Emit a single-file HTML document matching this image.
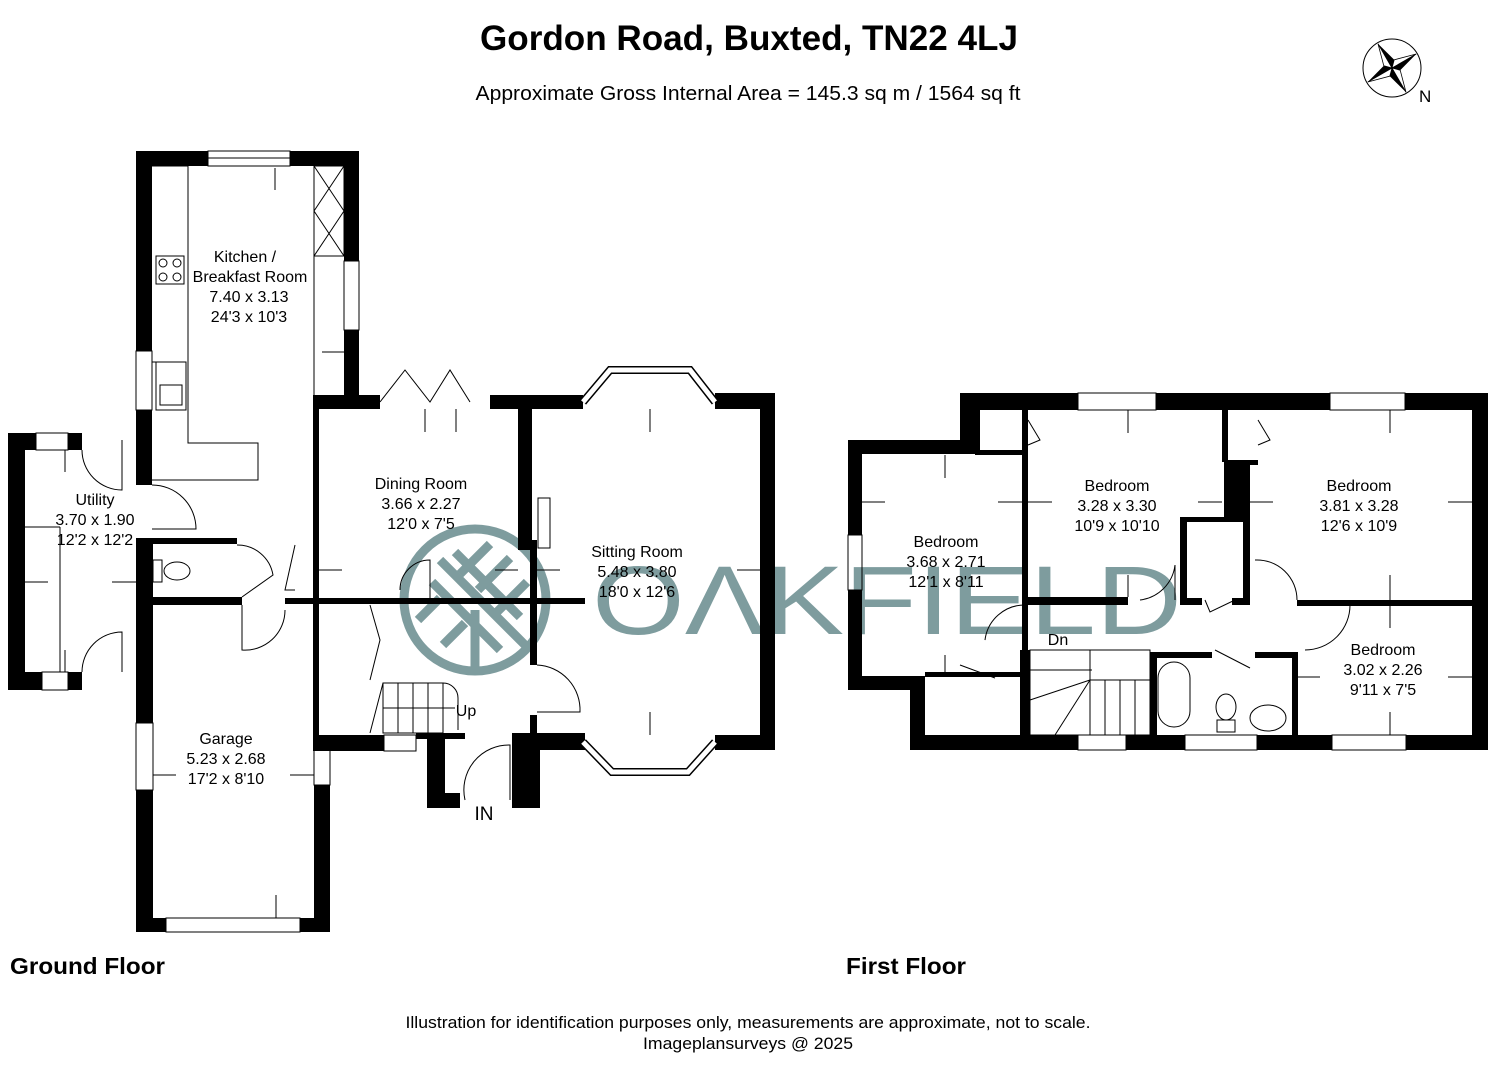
<!DOCTYPE html>
<html><head><meta charset="utf-8"><style>
html,body{margin:0;padding:0;background:#fff;}
svg{display:block;}
text{font-family:"Liberation Sans",Arial,sans-serif;fill:#000;}
</style></head><body>
<svg width="1495" height="1080" viewBox="0 0 1495 1080" xmlns="http://www.w3.org/2000/svg">
<rect width="1495" height="1080" fill="#fff"/>
<!-- watermark -->
<g fill="none" stroke="#7e9c9e">
<circle cx="475" cy="600" r="71" stroke-width="9"/>
<g stroke-width="9">
<line x1="475" y1="610" x2="475" y2="668"/>
<line x1="432" y1="582" x2="500" y2="650"/>
<line x1="440" y1="560" x2="525" y2="645"/>
<line x1="455" y1="552" x2="520" y2="617"/>
<line x1="418" y1="620" x2="440" y2="598"/>
<line x1="443" y1="645" x2="465" y2="623"/>
<line x1="460" y1="574" x2="490" y2="544"/>
<line x1="478" y1="590" x2="510" y2="558"/>
<line x1="497" y1="612" x2="527" y2="582"/>
</g></g>
<text x="592" y="634" font-size="97" fill="#7e9c9e" style="fill:#7e9c9e" textLength="590" lengthAdjust="spacingAndGlyphs">OΛKFIELD</text>

<!-- titles -->
<text x="749" y="50" font-size="35" font-weight="bold" text-anchor="middle" textLength="538" lengthAdjust="spacingAndGlyphs">Gordon Road, Buxted, TN22 4LJ</text>
<text x="748" y="100" font-size="20" text-anchor="middle" textLength="545" lengthAdjust="spacingAndGlyphs">Approximate Gross Internal Area = 145.3 sq m / 1564 sq ft</text>
<text x="10" y="974" font-size="23" font-weight="bold" textLength="155" lengthAdjust="spacingAndGlyphs">Ground Floor</text>
<text x="846" y="974" font-size="23" font-weight="bold" textLength="120" lengthAdjust="spacingAndGlyphs">First Floor</text>
<text x="748" y="1028" font-size="17" text-anchor="middle" textLength="685" lengthAdjust="spacingAndGlyphs">Illustration for identification purposes only, measurements are approximate, not to scale.</text>
<text x="748" y="1049" font-size="17" text-anchor="middle" textLength="210" lengthAdjust="spacingAndGlyphs">Imageplansurveys @ 2025</text>
<!-- compass -->
<g transform="translate(1392,68) rotate(-30)">
<circle r="29" fill="none" stroke="#000" stroke-width="1" transform="rotate(30)"/>
<polygon points="0,0 0,-28 6,-6" fill="#000"/>
<polygon points="0,0 0,-28 -6,-6" fill="#fff" stroke="#000" stroke-width="0.8"/>
<polygon points="0,0 28,0 6,6" fill="#000"/>
<polygon points="0,0 28,0 6,-6" fill="#fff" stroke="#000" stroke-width="0.8"/>
<polygon points="0,0 0,28 -6,6" fill="#000"/>
<polygon points="0,0 0,28 6,6" fill="#fff" stroke="#000" stroke-width="0.8"/>
<polygon points="0,0 -28,0 -6,-6" fill="#000"/>
<polygon points="0,0 -28,0 -6,6" fill="#fff" stroke="#000" stroke-width="0.8"/>
</g>
<text x="1419" y="102" font-size="17">N</text>

<!-- GROUND FLOOR walls -->
<g fill="#000">
<rect x="136" y="151" width="72" height="15"/>
<rect x="290" y="151" width="69" height="15"/>
<rect x="136" y="151" width="16" height="200"/>
<rect x="136" y="410" width="16" height="75"/>
<rect x="344" y="151" width="15" height="110"/>
<rect x="344" y="330" width="15" height="65"/>
<rect x="8" y="433" width="17" height="257"/>
<rect x="8" y="433" width="28" height="17"/>
<rect x="68" y="433" width="14" height="17"/>
<rect x="8" y="672" width="34" height="18"/>
<rect x="68" y="672" width="14" height="18"/>
<rect x="136" y="538" width="17" height="185"/>
<rect x="136" y="790" width="17" height="142"/>
<rect x="152" y="538" width="85" height="6"/>
<rect x="152" y="597" width="90" height="8"/>
<rect x="285" y="598" width="300" height="6"/>
<rect x="136" y="918" width="30" height="14"/>
<rect x="300" y="918" width="30" height="14"/>
<rect x="314" y="785" width="16" height="147"/>
<rect x="313" y="735" width="71" height="16"/>
<rect x="416" y="733" width="49" height="6"/>
<rect x="313" y="395" width="6" height="345"/>
<rect x="313" y="395" width="67" height="14"/>
<rect x="490" y="395" width="93" height="14"/>
<rect x="518" y="409" width="14" height="141"/>
<rect x="530" y="540" width="7" height="125"/>
<rect x="530" y="715" width="7" height="35"/>
<rect x="427" y="733" width="18" height="75"/>
<rect x="427" y="793" width="33" height="15"/>
<rect x="512" y="733" width="28" height="75"/>
<rect x="512" y="733" width="73" height="17"/>
<rect x="715" y="393" width="60" height="16"/>
<rect x="760" y="393" width="15" height="357"/>
<rect x="715" y="735" width="60" height="15"/>
</g>
<g fill="none" stroke="#000" stroke-width="1">
<rect x="208" y="151" width="82" height="15"/><line x1="208" y1="158" x2="290" y2="158"/>
<rect x="136" y="351" width="16" height="59"/>
<rect x="344" y="261" width="15" height="69"/>
<rect x="36" y="433" width="32" height="17"/>
<rect x="42" y="672" width="26" height="18"/>
<rect x="136" y="723" width="17" height="67"/>
<rect x="314" y="750" width="16" height="35"/>
<rect x="166" y="918" width="134" height="14"/>
<rect x="384" y="735" width="32" height="16"/>
<path d="M152 166 H188 V443 H258 V480 H152"/>
<path d="M314 166 V395 M314 166 H344"/>
<rect x="314" y="166" width="30" height="90"/>
<line x1="314" y1="166" x2="344" y2="211"/><line x1="344" y1="166" x2="314" y2="211"/>
<line x1="314" y1="211" x2="344" y2="256"/><line x1="344" y1="211" x2="314" y2="256"/>
<rect x="156" y="256" width="28" height="28"/>
<circle cx="163" cy="263" r="4"/><circle cx="177" cy="263" r="4"/><circle cx="163" cy="277" r="4"/><circle cx="177" cy="277" r="4"/>
<rect x="156" y="362" width="30" height="48"/><rect x="160" y="385" width="22" height="20"/>
<line x1="25" y1="527" x2="60" y2="527"/><line x1="60" y1="527" x2="60" y2="672"/>
<path d="M82 450 A40 40 0 0 0 122 490 L122 440"/>
<path d="M152 485 A44 44 0 0 1 196 529 L152 529"/>
<path d="M82 672 A40 40 0 0 1 122 632 L122 672"/>
<rect x="153" y="560" width="9" height="22"/><ellipse cx="177" cy="571" rx="13" ry="9"/>
<path d="M237 545 A36 36 0 0 1 273 575 L242 597"/>
<path d="M242 605 V650 A40 40 0 0 0 285 610"/>
<path d="M295 545 L285 590 H295"/>
<path d="M380 402 L405 370 L430 402 L450 370 L470 402"/>
<path d="M400 590 A30 30 0 0 1 430 560 V598"/>
<path d="M370 605 L380 640 L370 680"/>
<rect x="383" y="683" width="60" height="50"/>
<line x1="383" y1="708" x2="455" y2="708"/>
<line x1="398" y1="683" x2="398" y2="733"/><line x1="413" y1="683" x2="413" y2="733"/><line x1="428" y1="683" x2="428" y2="733"/>
<line x1="383" y1="683" x2="370" y2="733"/>
<path d="M443 683 A15 15 0 0 1 458 698 V730"/>
<rect x="520" y="410" width="10" height="80"/>
<rect x="538" y="498" width="12" height="50"/>
<path d="M537 665 A45 45 0 0 1 580 712 H537"/>
<path d="M465 800 A45 45 0 0 1 510 745 V800"/>
<path d="M583 402 L610 370 H690 L715 402" stroke-width="8"/>
<path d="M583 402 L610 370 H690 L715 402" stroke="#fff" stroke-width="5"/>
<path d="M583 742 L612 772 H688 L715 742" stroke-width="8"/>
<path d="M583 742 L612 772 H688 L715 742" stroke="#fff" stroke-width="5"/>
<!-- dimension arrows (ground) -->
<path d="M275 168 V190 M152 362 H175 M344 352 H322 M65 450 V472 M65 672 V650 M25 582 H48 M136 582 H112 M425 409 V432 M456 409 V432 M319 570 H342 M518 570 H495 M650 409 V432 M650 735 V712 M537 570 H560 M760 570 H737 M153 775 H176 M314 775 H290 M276 918 V895"/>
<!-- FIRST FLOOR details -->
<rect x="1078" y="393" width="78" height="17"/>
<rect x="1330" y="393" width="75" height="17"/>
<rect x="848" y="535" width="14" height="55"/>
<rect x="1078" y="735" width="48" height="15"/>
<rect x="1185" y="735" width="72" height="15"/>
<rect x="1332" y="735" width="74" height="15"/>
<rect x="1030" y="650" width="120" height="85"/>
<line x1="1030" y1="670" x2="1092" y2="670"/>
<rect x="1090" y="650" width="60" height="30"/>
<line x1="1090" y1="680" x2="1090" y2="735"/><line x1="1105" y1="680" x2="1105" y2="735"/><line x1="1120" y1="680" x2="1120" y2="735"/><line x1="1135" y1="680" x2="1135" y2="735"/>
<line x1="1030" y1="700" x2="1090" y2="680"/><line x1="1055" y1="735" x2="1090" y2="680"/>
<rect x="1158" y="662" width="32" height="65" rx="16"/>
<ellipse cx="1226" cy="707" rx="10" ry="13"/><rect x="1217" y="720" width="18" height="12"/>
<ellipse cx="1268" cy="718" rx="18" ry="13"/>
<path d="M985 640 A40 40 0 0 1 1025 605"/>
<path d="M1140 600 A40 40 0 0 0 1175 565 V600"/>
<path d="M1255 560 A40 40 0 0 1 1297 600"/>
<path d="M1297 605 H1350 A45 45 0 0 1 1305 650"/>
<path d="M1205 600 L1210 612 L1235 600"/>
<path d="M1215 650 L1250 668"/>
<path d="M960 665 L995 678"/>
<path d="M1028 420 L1040 440 L1028 445"/>
<path d="M1258 420 L1270 440 L1258 445"/>
<path d="M945 455 V478 M862 502 H885 M1022 502 H998 M945 676 V655 M1028 502 H1052 M1222 502 H1198 M1128 410 V433 M1128 597 V575 M1250 502 H1273 M1472 502 H1448 M1390 410 V433 M1390 600 V575 M1390 606 V628 M1390 735 V712 M1298 677 H1320 M1472 677 H1448"/>
</g>
<!-- FIRST FLOOR walls -->
<g fill="#000">
<rect x="848" y="440" width="14" height="95"/>
<rect x="848" y="590" width="14" height="100"/>
<rect x="848" y="440" width="127" height="14"/>
<rect x="960" y="393" width="15" height="61"/>
<rect x="960" y="393" width="118" height="17"/>
<rect x="1156" y="393" width="174" height="17"/>
<rect x="1405" y="393" width="83" height="17"/>
<rect x="1472" y="393" width="16" height="357"/>
<rect x="848" y="676" width="77" height="14"/>
<rect x="910" y="676" width="15" height="74"/>
<rect x="910" y="735" width="168" height="15"/>
<rect x="1126" y="735" width="59" height="15"/>
<rect x="1257" y="735" width="75" height="15"/>
<rect x="1406" y="735" width="82" height="15"/>
<rect x="975" y="450" width="50" height="5"/>
<rect x="1022" y="410" width="6" height="242"/>
<rect x="1028" y="597" width="100" height="8"/>
<rect x="1020" y="650" width="10" height="100"/>
<rect x="925" y="672" width="100" height="5"/>
<rect x="1222" y="410" width="6" height="52"/>
<rect x="1224" y="460" width="26" height="60"/>
<rect x="1185" y="517" width="65" height="5"/>
<rect x="1180" y="517" width="7" height="88"/>
<rect x="1243" y="517" width="7" height="88"/>
<rect x="1180" y="598" width="22" height="7"/>
<rect x="1232" y="598" width="18" height="7"/>
<rect x="1228" y="460" width="30" height="5"/>
<rect x="1297" y="600" width="175" height="6"/>
<rect x="1150" y="652" width="7" height="85"/>
<rect x="1150" y="652" width="62" height="6"/>
<rect x="1255" y="652" width="40" height="6"/>
<rect x="1292" y="652" width="6" height="85"/>
<rect x="975" y="410" width="5" height="45"/>
</g>
<!-- labels -->
<g font-size="16" text-anchor="middle">
<text x="245" y="262">Kitchen /</text><text x="250" y="282">Breakfast Room</text><text x="249" y="302">7.40 x 3.13</text><text x="249" y="322">24'3 x 10'3</text>
<text x="95" y="505">Utility</text><text x="95" y="525">3.70 x 1.90</text><text x="95" y="545">12'2 x 12'2</text>
<text x="421" y="489">Dining Room</text><text x="421" y="509">3.66 x 2.27</text><text x="421" y="529">12'0 x 7'5</text>
<text x="637" y="557">Sitting Room</text><text x="637" y="577">5.48 x 3.80</text><text x="637" y="597">18'0 x 12'6</text>
<text x="226" y="744">Garage</text><text x="226" y="764">5.23 x 2.68</text><text x="226" y="784">17'2 x 8'10</text>
<text x="946" y="547">Bedroom</text><text x="946" y="567">3.68 x 2.71</text><text x="946" y="587">12'1 x 8'11</text>
<text x="1117" y="491">Bedroom</text><text x="1117" y="511">3.28 x 3.30</text><text x="1117" y="531">10'9 x 10'10</text>
<text x="1359" y="491">Bedroom</text><text x="1359" y="511">3.81 x 3.28</text><text x="1359" y="531">12'6 x 10'9</text>
<text x="1383" y="655">Bedroom</text><text x="1383" y="675">3.02 x 2.26</text><text x="1383" y="695">9'11 x 7'5</text>
<text x="466" y="716">Up</text><text x="1058" y="645">Dn</text>
</g>
<text x="484" y="820" font-size="19" text-anchor="middle">IN</text>
</svg>
</body></html>
